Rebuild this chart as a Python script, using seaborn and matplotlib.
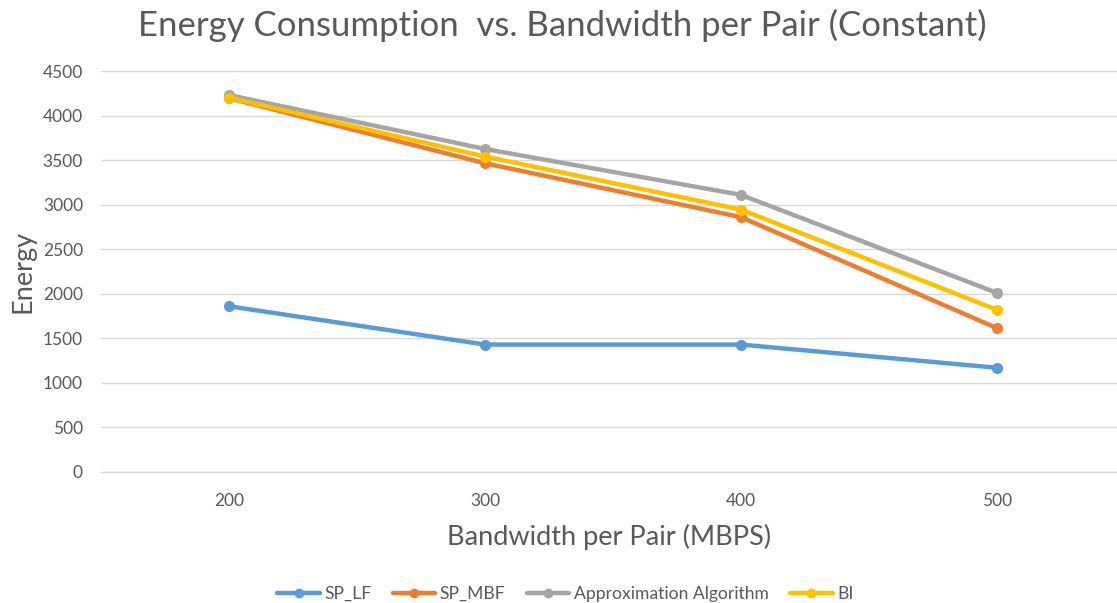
import matplotlib
matplotlib.use("Agg")
import matplotlib.pyplot as plt
import seaborn as sns
import pandas as pd

bandwidth = ["200", "300", "400", "500"]
sp_lf = [1860, 1430, 1430, 1170]
sp_mbf = [4195, 3465, 2860, 1615]
approx_alg = [4230, 3625, 3110, 2010]
bi = [4200, 3540, 2945, 1820]

series_names = ["SP_LF", "SP_MBF", "Approximation Algorithm", "BI"]
series_values = [sp_lf, sp_mbf, approx_alg, bi]
palette = ["#5B9BD5", "#ED7D31", "#A5A5A5", "#FFC000"]

rows = []
for name, vals in zip(series_names, series_values):
    for b, v in zip(bandwidth, vals):
        rows.append({"Bandwidth": b, "Energy": v, "Series": name})
df = pd.DataFrame(rows)

sns.set_theme(style="white")
plt.rcParams["font.family"] = ["Lato", "DejaVu Sans"]
text_color = "#595959"

fig = plt.figure(figsize=(11.17, 6.03), dpi=100)
ax = fig.add_axes([101 / 1117, 1 - 472 / 603, (1117 - 101) / 1117, 401 / 603])

sns.lineplot(
    data=df, x="Bandwidth", y="Energy", hue="Series",
    hue_order=series_names, palette=palette,
    marker="o", markersize=8, markeredgewidth=0, linewidth=3.2,
    ax=ax, legend=False, sort=False,
)

ax.set_xlim(-0.5, 3.469)
ax.set_ylim(0, 4500)
ax.set_yticks(range(0, 4501, 500))
ax.grid(axis="y", color="#D9D9D9", linewidth=1)
ax.set_axisbelow(True)
for side in ["left", "right", "top"]:
    ax.spines[side].set_visible(False)
ax.spines["bottom"].set_color("#D9D9D9")
ax.spines["bottom"].set_linewidth(1)
ax.tick_params(axis="both", length=0, labelsize=12.5, colors=text_color)
ax.tick_params(axis="y", pad=13)
ax.tick_params(axis="x", pad=15)

ax.set_xlabel("Bandwidth per Pair (MBPS)", fontsize=19.5, color=text_color, labelpad=11)
ax.set_ylabel("Energy", fontsize=19.5, color=text_color, labelpad=5)
fig.text(0.503, 0.958, "Energy Consumption  vs. Bandwidth per Pair (Constant)",
         ha="center", va="center", fontsize=25, color=text_color)

handles = [
    plt.Line2D([], [], color=c, linewidth=3.2, marker="o", markersize=7, markeredgewidth=0)
    for c in palette
]
fig.legend(handles, series_names, loc="center", bbox_to_anchor=(0.506, 0.015),
           ncol=4, frameon=False, fontsize=12.6, handlelength=2.45, handletextpad=0.25,
           columnspacing=1.2, labelcolor=text_color)

fig.savefig("out.png", dpi=100)
